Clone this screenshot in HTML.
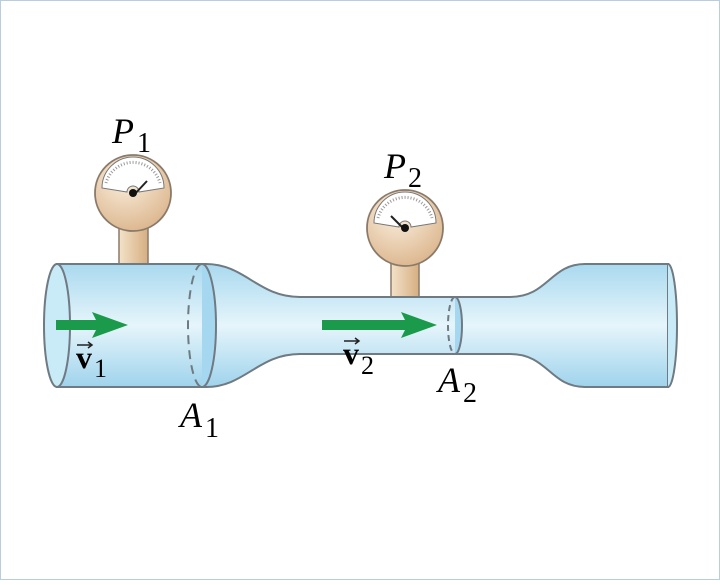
<!DOCTYPE html>
<html><head><style>
body{margin:0;background:#fff}
svg text{font-family:"Liberation Serif",serif}
</style></head><body>
<svg width="720" height="580" viewBox="0 0 720 580" xmlns="http://www.w3.org/2000/svg">
<defs>
<linearGradient id="w" x1="0" y1="0" x2="0" y2="1">
<stop offset="0" stop-color="#a9d9ef"/><stop offset="0.5" stop-color="#e6f5fb"/><stop offset="1" stop-color="#9fd3ec"/>
</linearGradient>
<radialGradient id="g" cx="0.4" cy="0.3" r="0.8">
<stop offset="0" stop-color="#fbf0df"/><stop offset="1" stop-color="#d9b187"/>
</radialGradient>
<linearGradient id="s" x1="0" y1="0" x2="1" y2="0">
<stop offset="0" stop-color="#f3e2c8"/><stop offset="1" stop-color="#d6ae82"/>
</linearGradient>
</defs>
<rect x="0.5" y="0.5" width="719" height="579" fill="#fff" stroke="#b9cde0"/>
<rect x="119" y="222" width="29" height="44" fill="url(#s)" stroke="#8a7a6a" stroke-width="1.5"/>
<rect x="391" y="256" width="28" height="43" fill="url(#s)" stroke="#8a7a6a" stroke-width="1.5"/>
<path d="M57,264 L206,264 C245,264 258,297 300,297 L510,297 C548,297 550,264 585,264 L668,264 L668,387 L585,387 C550,387 548,354 510,354 L300,354 C258,354 245,387 206,387 L57,387 Z" fill="url(#w)" stroke="#6f7a82" stroke-width="2"/>
<ellipse cx="57" cy="325.5" rx="13" ry="61.5" fill="#c9eaf7" stroke="#6f7a82" stroke-width="2"/>
<path d="M202,264 A14,61.5 0 0 1 202,387" fill="#a5d8f0" stroke="#6f7a82" stroke-width="2"/>
<path d="M202,264 A14,61.5 0 0 0 202,387" fill="none" stroke="#6f7a82" stroke-width="2" stroke-dasharray="9,6"/>
<path d="M668,264 A9,61.5 0 0 1 668,387" fill="#c9eaf7" stroke="#6f7a82" stroke-width="2"/>
<path d="M455,297 A7,28.5 0 0 1 455,354" fill="#a5d8f0" stroke="#6f7a82" stroke-width="2"/>
<path d="M455,297 A7,28.5 0 0 0 455,354" fill="none" stroke="#6f7a82" stroke-width="2" stroke-dasharray="6,4"/>
<path d="M56,320 L96,320 L92,312 L128,325 L92,338 L96,330 L56,330 Z" fill="#1a9a4a"/>
<path d="M322,320 L405,320 L401,312 L437,325 L401,338 L405,330 L322,330 Z" fill="#1a9a4a"/>
<g transform="translate(133,193)">
<circle r="38" fill="url(#g)" stroke="#8a7a6a" stroke-width="1.8"/>
<path d="M-31,-5 A31,31 0 0 1 31,-5 L6,-1 A6,6 0 0 0 -6,-1 Z" fill="#fff" stroke="#777" stroke-width="1"/>
<path d="M-27,-10 A28,28 0 0 1 27,-10" fill="none" stroke="#999" stroke-width="3" stroke-dasharray="1,2"/>
<line x1="0" y1="3" x2="14" y2="-12" stroke="#222" stroke-width="2"/>
<circle r="4" fill="#111"/>
</g>
<g transform="translate(405,228)">
<circle r="38" fill="url(#g)" stroke="#8a7a6a" stroke-width="1.8"/>
<path d="M-31,-5 A31,31 0 0 1 31,-5 L6,-1 A6,6 0 0 0 -6,-1 Z" fill="#fff" stroke="#777" stroke-width="1"/>
<path d="M-27,-10 A28,28 0 0 1 27,-10" fill="none" stroke="#999" stroke-width="3" stroke-dasharray="1,2"/>
<line x1="0" y1="2" x2="-14" y2="-12" stroke="#222" stroke-width="2"/>
<circle r="4" fill="#111"/>
</g>
<text x="112" y="143" font-size="36" font-style="italic">P</text><text x="137" y="152" font-size="28">1</text>
<text x="384" y="178" font-size="36" font-style="italic">P</text><text x="408" y="187" font-size="28">2</text>
<text x="180" y="427" font-size="36" font-style="italic">A</text><text x="205" y="437" font-size="28">1</text>
<text x="438" y="392" font-size="36" font-style="italic">A</text><text x="463" y="402" font-size="28">2</text>
<text x="76" y="368" font-size="32" font-weight="bold">v</text><text x="94" y="377" font-size="26">1</text>
<path d="M77,345 L92,345 M88,342 L92,345 L88,348" stroke="#222" stroke-width="1.5" fill="none"/>
<text x="343" y="364" font-size="32" font-weight="bold">v</text><text x="361" y="374" font-size="26">2</text>
<path d="M344,341 L359,341 M355,338 L359,341 L355,344" stroke="#222" stroke-width="1.5" fill="none"/>
</svg>
</body></html>
